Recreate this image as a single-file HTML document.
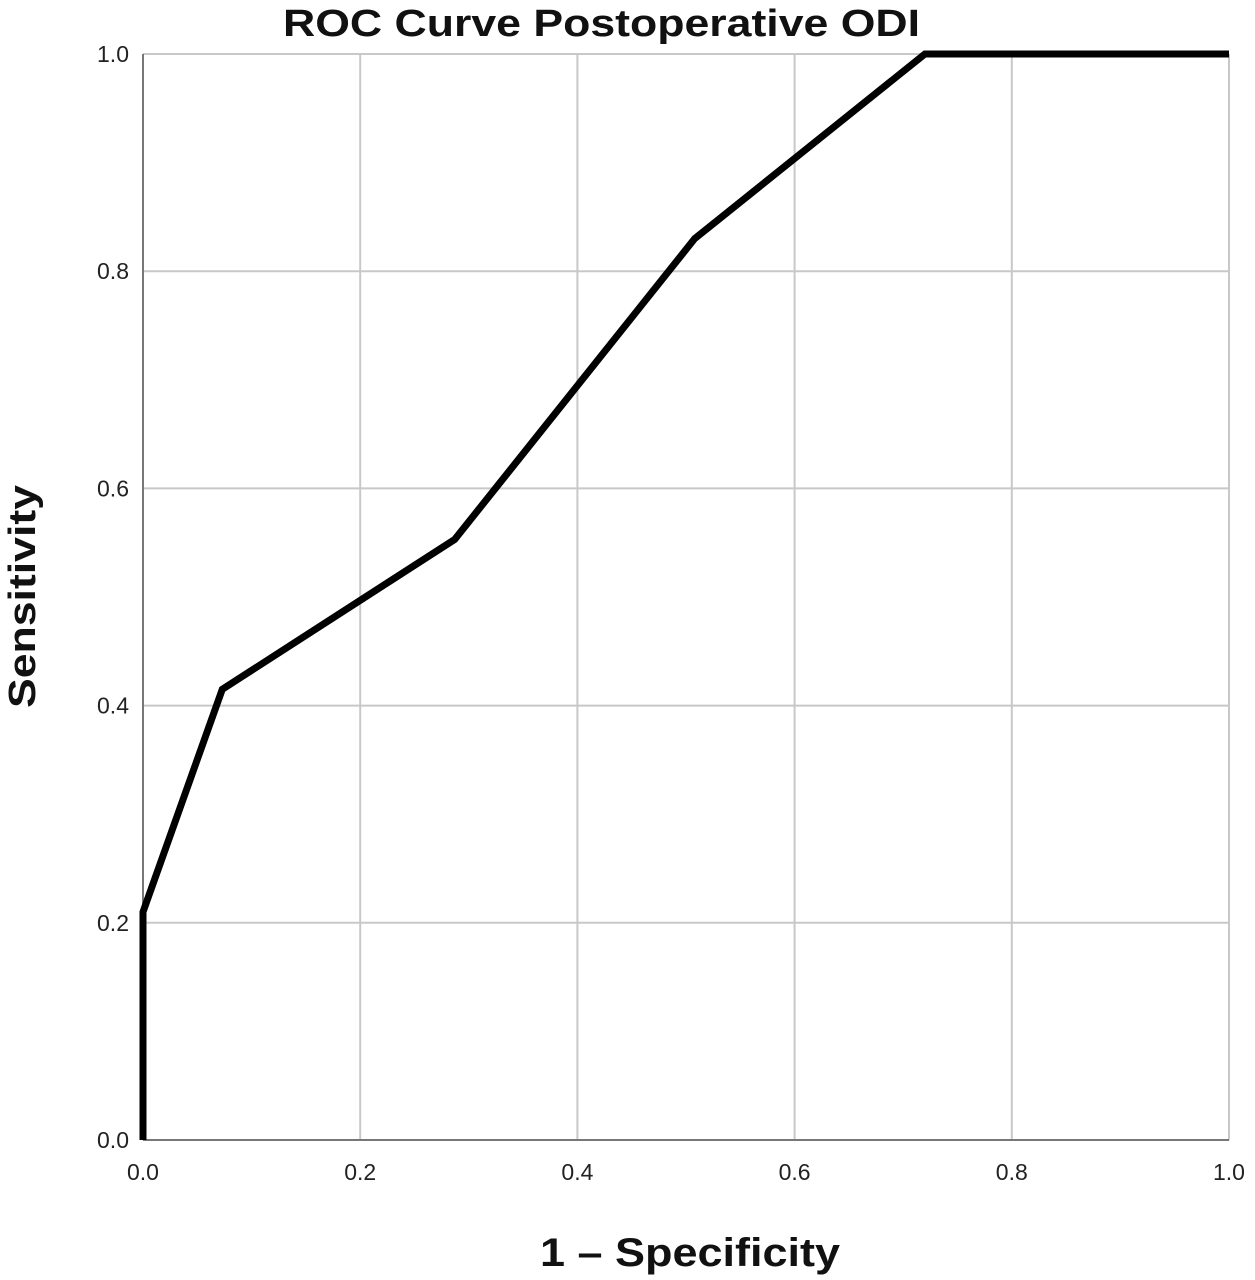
<!DOCTYPE html>
<html><head><meta charset="utf-8"><style>
html,body{margin:0;padding:0;background:#fff;}
svg{display:block;font-family:"Liberation Sans",sans-serif;}
</style></head><body>
<svg id="chart" width="1255" height="1280" viewBox="0 0 1255 1280">
<text x="283" y="36" textLength="637" lengthAdjust="spacingAndGlyphs" font-size="38" font-weight="bold" fill="#111">ROC Curve Postoperative ODI</text>
<g id="grid"></g>
<g id="ticks"></g>
<line x1="143" y1="54" x2="143" y2="1140" stroke="#777" stroke-width="2"/>
<line x1="143" y1="1140" x2="1229" y2="1140" stroke="#777" stroke-width="2"/>
<path id="curve" fill="none" stroke="#000" stroke-width="7" stroke-linejoin="miter"/>
<text x="540" y="1266" textLength="300" lengthAdjust="spacingAndGlyphs" font-size="40" font-weight="bold" fill="#111">1 – Specificity</text>
<text transform="translate(35,708) rotate(-90)" textLength="223" lengthAdjust="spacingAndGlyphs" font-size="38" font-weight="bold" fill="#111">Sensitivity</text>
</svg>
<script>
const xTicks = [0, 0.2, 0.4, 0.6, 0.8, 1.0];
const yTicks = [0, 0.2, 0.4, 0.6, 0.8, 1.0];
const fpr = [0, 0, 0.073, 0.287, 0.508, 0.72, 1.0];
const tpr = [0, 0.21, 0.415, 0.553, 0.83, 1.0, 1.0];
const X0 = 143, X1 = 1229, Y0 = 1140, Y1 = 54;
function sx(v){ return X0 + v * (X1 - X0); }
function sy(v){ return Y0 - v * (Y0 - Y1); }
const NS = "http://www.w3.org/2000/svg";
const grid = document.getElementById('grid');
const ticks = document.getElementById('ticks');
xTicks.forEach(t => {
  if (t > 0) {
    const l = document.createElementNS(NS, 'line');
    
    
    l.setAttribute('x1', sx(t)); l.setAttribute('x2', sx(t));
    l.setAttribute('y1', Y1); l.setAttribute('y2', Y0);
    l.setAttribute('stroke', '#c8c8c8'); l.setAttribute('stroke-width', '2');
    grid.appendChild(l);
  }
  const tx = document.createElementNS(NS, 'text');
  
  
  tx.setAttribute('x', sx(t)); tx.setAttribute('y', 1180);
  tx.setAttribute('text-anchor', 'middle'); tx.setAttribute('font-size', '23'); tx.setAttribute('fill', '#222');
  tx.textContent = t.toFixed(1);
  ticks.appendChild(tx);
});
yTicks.forEach(t => {
  if (t > 0) {
    const l = document.createElementNS(NS, 'line');
    
    
    l.setAttribute('x1', X0); l.setAttribute('x2', X1);
    l.setAttribute('y1', sy(t)); l.setAttribute('y2', sy(t));
    l.setAttribute('stroke', '#c8c8c8'); l.setAttribute('stroke-width', '2');
    grid.appendChild(l);
  }
  const tx = document.createElementNS(NS, 'text');
  
  
  tx.setAttribute('x', 129); tx.setAttribute('y', sy(t) + 8);
  tx.setAttribute('text-anchor', 'end'); tx.setAttribute('font-size', '23'); tx.setAttribute('fill', '#222');
  tx.textContent = t.toFixed(1);
  ticks.appendChild(tx);
});
document.getElementById('curve').setAttribute('d',
  fpr.map((v, i) => (i ? 'L' : 'M') + sx(v) + ',' + sy(tpr[i])).join(' '));
</script>
</body></html>
